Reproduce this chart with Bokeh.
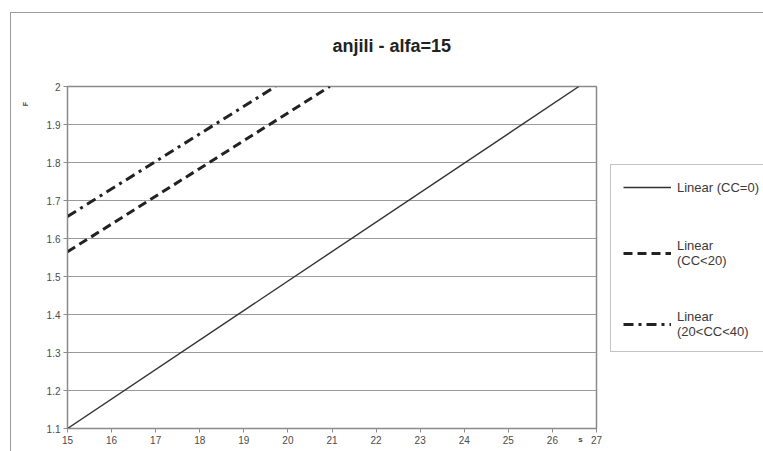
from bokeh.plotting import figure
from bokeh.models import (Range1d, FixedTicker, Legend, LegendItem, Title)
from bokeh.embed import file_html
from bokeh.resources import INLINE

title_text = "anjili - alfa=15"
x_title = "s"
y_title = "F"

# Trend lines (endpoints)
x_cc0 = [15.0, 26.6]
y_cc0 = [1.10, 2.00]
x_cc20 = [15.0, 20.95]
y_cc20 = [1.565, 2.00]
x_cc2040 = [15.0, 19.72]
y_cc2040 = [1.658, 2.00]

series_names = ["Linear (CC=0)", "Linear\n(CC<20)", "Linear\n(20<CC<40)"]
x_ticks = [15, 16, 17, 18, 19, 20, 21, 22, 23, 24, 25, 26, 27]
y_ticks = [1.1, 1.2, 1.3, 1.4, 1.5, 1.6, 1.7, 1.8, 1.9, 2.0]

FONT = "Liberation Sans"
EM = "\u2003"

p = figure(width=763, height=451, frame_width=529, frame_height=342,
           min_border_left=67, min_border_right=167, min_border_top=86,
           min_border_bottom=23, output_backend="svg", toolbar_location=None,
           x_range=Range1d(15, 27), y_range=Range1d(1.1, 2.0))
p.border_fill_alpha = 0
p.styles = {"background": "linear-gradient(#9a9a9a,#9a9a9a) 10px 12px / 1px 100% no-repeat, "
                          "linear-gradient(#9a9a9a,#9a9a9a) 10px 12px / 100% 1px no-repeat, white"}
p.background_fill_color = "white"
p.outline_line_color = "#8a8a8a"
p.outline_line_width = 1.5

p.xgrid.visible = False
p.ygrid.grid_line_color = "#9a9a9a"
p.ygrid.grid_line_width = 1

p.xaxis.ticker = FixedTicker(ticks=x_ticks)
p.yaxis.ticker = FixedTicker(ticks=y_ticks)
p.yaxis.major_label_overrides = {2: "2"}
for ax in (p.xaxis[0], p.yaxis[0]):
    ax.axis_line_color = "#8a8a8a"
    ax.major_tick_line_color = "#8a8a8a"
    ax.major_tick_in = 0
    ax.major_tick_out = 4
    ax.minor_tick_line_color = None
    ax.major_label_text_font = FONT
    ax.major_label_text_font_size = "10px"
    ax.major_label_text_color = "#4a4a4a"
    ax.major_label_standoff = 3
    ax.axis_label_text_font = FONT
    ax.axis_label_text_font_style = "bold"
    ax.axis_label_text_color = "#444444"
    ax.axis_label_align = "end"

p.xaxis.axis_label = x_title + EM * 4
p.xaxis.axis_label_text_font_size = "8px"
p.xaxis.axis_label_standoff = -12
p.yaxis.axis_label = y_title + EM * 5
p.yaxis.axis_label_text_font_size = "7px"
p.yaxis.axis_label_standoff = 15

r0 = p.line(x_cc0, y_cc0, line_color="#333333", line_width=1.4)
r1 = p.line(x_cc20, y_cc20, line_color="#222222", line_width=3, line_dash="9 5")
r2 = p.line(x_cc2040, y_cc2040, line_color="#222222", line_width=3, line_dash="10 5 3 5")

legend = Legend(items=[LegendItem(label=series_names[0], renderers=[r0]),
                       LegendItem(label=series_names[1], renderers=[r1]),
                       LegendItem(label=series_names[2], renderers=[r2])],
                location=(14, 76))
legend.label_text_font = FONT
legend.label_text_font_size = "13px"
legend.label_text_color = "#3a3a3a"
legend.glyph_width = 48
legend.label_standoff = 6
legend.spacing = 41
legend.padding = 12
legend.margin = 0
legend.border_line_color = "#8a8a8a"
legend.border_line_width = 1.5
legend.background_fill_color = "white"
legend.background_fill_alpha = 1
p.add_layout(legend, "right")

p.title = Title(text=title_text, align="left", offset=265, standoff=61,
                text_font=FONT, text_font_size="18px", text_font_style="bold",
                text_color="#222222")

open("out.html", "w").write(file_html(p, INLINE))
